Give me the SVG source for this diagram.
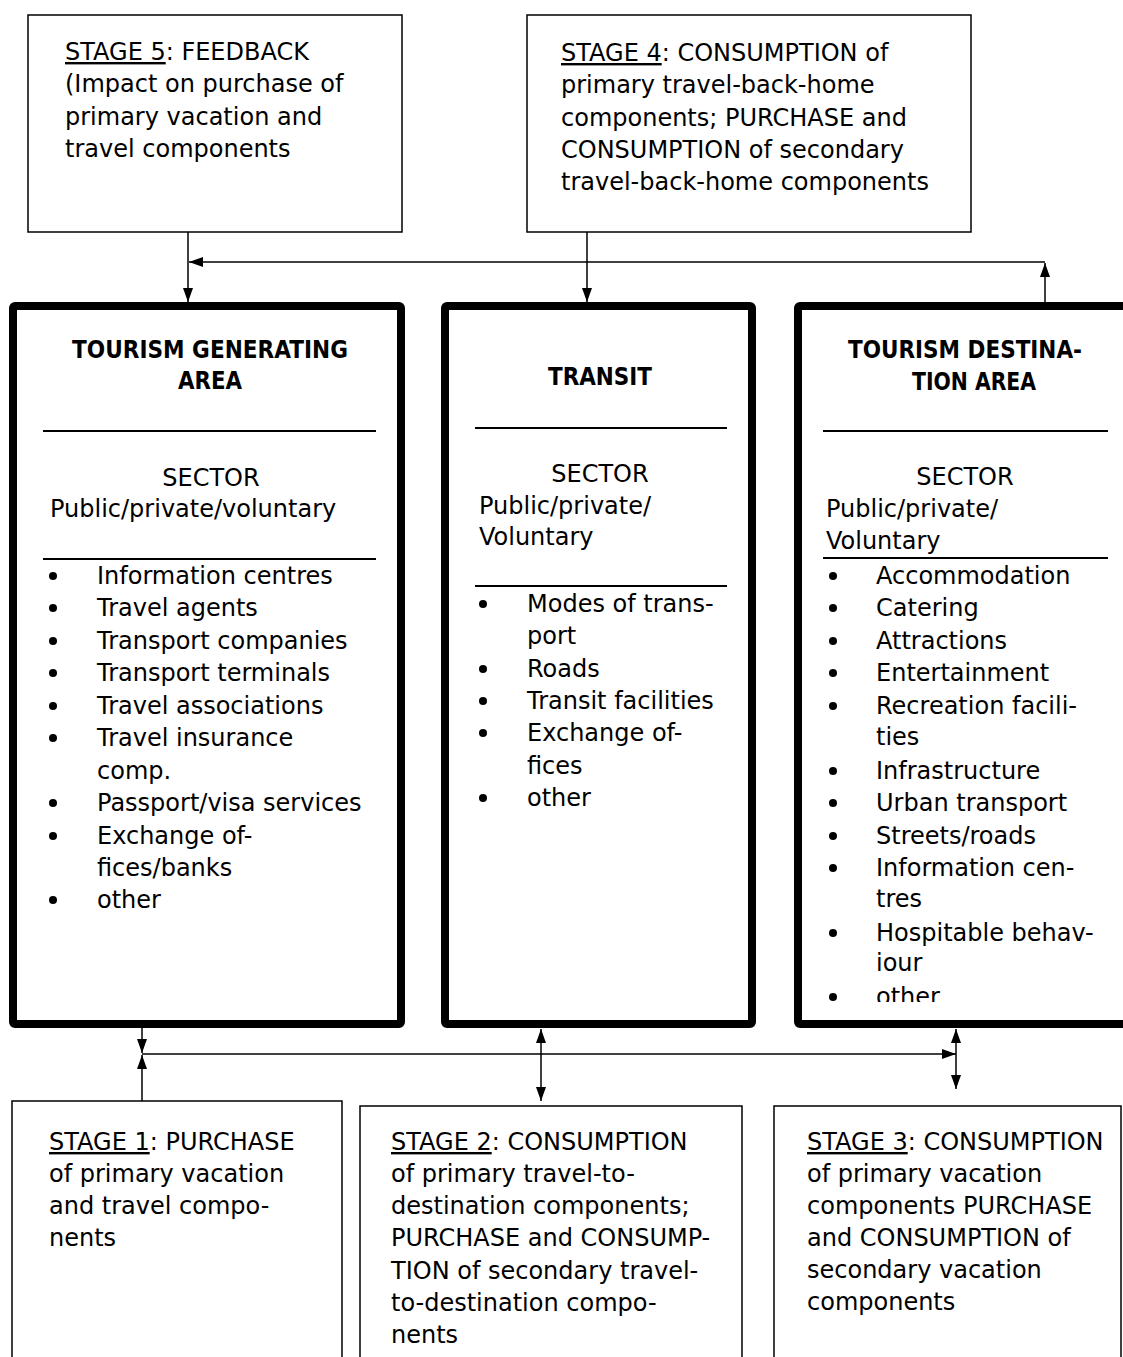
<svg xmlns="http://www.w3.org/2000/svg" width="1123" height="1357" viewBox="0 0 1123 1357">
<style>
  text { font-family: "DejaVu Sans", Verdana, sans-serif; font-size: 24px; fill: #000; }
  .h { font-weight: bold; }
  .u { text-decoration: underline; }
  .mid { text-anchor: middle; }
  .thin { fill: #fff; stroke: #000; stroke-width: 1.5; }
  .thick { fill: #fff; stroke: #000; stroke-width: 8; }
  .sep { stroke: #000; stroke-width: 2; }
  .con { fill: none; stroke: #000; stroke-width: 1.5; }
  .dot { fill: #000; }
</style>
<defs>
  <marker id="ah" viewBox="0 0 14 10" refX="14" refY="5" markerWidth="14" markerHeight="10" markerUnits="userSpaceOnUse" orient="auto-start-reverse">
    <path d="M0,0 L14,5 L0,10 Z" fill="#000"/>
  </marker>
  <clipPath id="clipR"><rect x="798" y="306" width="330" height="696"/></clipPath>
</defs>
<rect width="1123" height="1357" fill="#fff"/>

<g id="stage5">
  <rect class="thin" x="28" y="15" width="374" height="217"/>
  <text x="65" y="60"><tspan class="u">STAGE 5</tspan>: FEEDBACK</text>
  <text x="65" y="92">(Impact on purchase of</text>
  <text x="65" y="125">primary vacation and</text>
  <text x="65" y="157">travel components</text>
</g>

<g id="stage4">
  <rect class="thin" x="527" y="15" width="444" height="217"/>
  <text x="561" y="61"><tspan class="u">STAGE 4</tspan>: CONSUMPTION of</text>
  <text x="561" y="93">primary travel-back-home</text>
  <text x="561" y="126">components; PURCHASE and</text>
  <text x="561" y="158">CONSUMPTION of secondary</text>
  <text x="561" y="190">travel-back-home components</text>
</g>

<g id="generating">
  <rect class="thick" x="13" y="306" width="388" height="718" rx="2"/>
  <text class="h" x="72" y="358" textLength="276" lengthAdjust="spacingAndGlyphs">TOURISM GENERATING</text>
  <text class="h" x="178" y="389" textLength="64" lengthAdjust="spacingAndGlyphs">AREA</text>
  <line class="sep" x1="43" y1="431" x2="376" y2="431"/>
  <text class="mid" x="211" y="486">SECTOR</text>
  <text x="50" y="517">Public/private/voluntary</text>
  <line class="sep" x1="43" y1="559" x2="376" y2="559"/>
  <g>
    <circle class="dot" cx="53" cy="576" r="4"/><text x="97" y="584">Information centres</text>
    <circle class="dot" cx="53" cy="608" r="4"/><text x="97" y="616">Travel agents</text>
    <circle class="dot" cx="53" cy="641" r="4"/><text x="97" y="649">Transport companies</text>
    <circle class="dot" cx="53" cy="673" r="4"/><text x="97" y="681">Transport terminals</text>
    <circle class="dot" cx="53" cy="706" r="4"/><text x="97" y="714">Travel associations</text>
    <circle class="dot" cx="53" cy="738" r="4"/><text x="97" y="746">Travel insurance</text>
    <text x="97" y="779">comp.</text>
    <circle class="dot" cx="53" cy="803" r="4"/><text x="97" y="811">Passport/visa services</text>
    <circle class="dot" cx="53" cy="836" r="4"/><text x="97" y="844">Exchange of-</text>
    <text x="97" y="876">fices/banks</text>
    <circle class="dot" cx="53" cy="900" r="4"/><text x="97" y="908">other</text>
  </g>
</g>

<g id="transit">
  <rect class="thick" x="445" y="306" width="307" height="718" rx="2"/>
  <text class="h" x="548" y="385" textLength="104" lengthAdjust="spacingAndGlyphs">TRANSIT</text>
  <line class="sep" x1="475" y1="428" x2="727" y2="428"/>
  <text class="mid" x="600" y="482">SECTOR</text>
  <text x="479" y="514">Public/private/</text>
  <text x="479" y="545">Voluntary</text>
  <line class="sep" x1="475" y1="586" x2="727" y2="586"/>
  <g>
    <circle class="dot" cx="483" cy="604" r="4"/><text x="527" y="612">Modes of trans-</text>
    <text x="527" y="644">port</text>
    <circle class="dot" cx="483" cy="669" r="4"/><text x="527" y="677">Roads</text>
    <circle class="dot" cx="483" cy="701" r="4"/><text x="527" y="709">Transit facilities</text>
    <circle class="dot" cx="483" cy="733" r="4"/><text x="527" y="741">Exchange of-</text>
    <text x="527" y="774">fices</text>
    <circle class="dot" cx="483" cy="798" r="4"/><text x="527" y="806">other</text>
  </g>
</g>

<g id="destination">
  <rect class="thick" x="798" y="306" width="400" height="718" rx="2"/>
  <text class="h" x="848" y="358" textLength="234" lengthAdjust="spacingAndGlyphs">TOURISM DESTINA-</text>
  <text class="h" x="912" y="390" textLength="124" lengthAdjust="spacingAndGlyphs">TION AREA</text>
  <line class="sep" x1="823" y1="431" x2="1108" y2="431"/>
  <text class="mid" x="965" y="485">SECTOR</text>
  <text x="826" y="517">Public/private/</text>
  <text x="826" y="549">Voluntary</text>
  <line class="sep" x1="823" y1="558" x2="1108" y2="558"/>
  <g clip-path="url(#clipR)">
    <circle class="dot" cx="833" cy="576" r="4"/><text x="876" y="584">Accommodation</text>
    <circle class="dot" cx="833" cy="608" r="4"/><text x="876" y="616">Catering</text>
    <circle class="dot" cx="833" cy="641" r="4"/><text x="876" y="649">Attractions</text>
    <circle class="dot" cx="833" cy="673" r="4"/><text x="876" y="681">Entertainment</text>
    <circle class="dot" cx="833" cy="706" r="4"/><text x="876" y="714">Recreation facili-</text>
    <text x="876" y="745">ties</text>
    <circle class="dot" cx="833" cy="771" r="4"/><text x="876" y="779">Infrastructure</text>
    <circle class="dot" cx="833" cy="803" r="4"/><text x="876" y="811">Urban transport</text>
    <circle class="dot" cx="833" cy="836" r="4"/><text x="876" y="844">Streets/roads</text>
    <circle class="dot" cx="833" cy="868" r="4"/><text x="876" y="876">Information cen-</text>
    <text x="876" y="907">tres</text>
    <circle class="dot" cx="833" cy="933" r="4"/><text x="876" y="941">Hospitable behav-</text>
    <text x="876" y="971">iour</text>
    <circle class="dot" cx="833" cy="997" r="4"/><text x="876" y="1005">other</text>
  </g>
</g>

<g id="stage1">
  <rect class="thin" x="12" y="1101" width="330" height="300"/>
  <text x="49" y="1150"><tspan class="u">STAGE 1</tspan>: PURCHASE</text>
  <text x="49" y="1182">of primary vacation</text>
  <text x="49" y="1214">and travel compo-</text>
  <text x="49" y="1246">nents</text>
</g>

<g id="stage2">
  <rect class="thin" x="360" y="1106" width="382" height="300"/>
  <text x="391" y="1150"><tspan class="u">STAGE 2</tspan>: CONSUMPTION</text>
  <text x="391" y="1182">of primary travel-to-</text>
  <text x="391" y="1214">destination components;</text>
  <text x="391" y="1246">PURCHASE and CONSUMP-</text>
  <text x="391" y="1279">TION of secondary travel-</text>
  <text x="391" y="1311">to-destination compo-</text>
  <text x="391" y="1343">nents</text>
</g>

<g id="stage3">
  <rect class="thin" x="774" y="1106" width="347" height="300"/>
  <text x="807" y="1150"><tspan class="u">STAGE 3</tspan>: CONSUMPTION</text>
  <text x="807" y="1182">of primary vacation</text>
  <text x="807" y="1214">components PURCHASE</text>
  <text x="807" y="1246">and CONSUMPTION of</text>
  <text x="807" y="1278">secondary vacation</text>
  <text x="807" y="1310">components</text>
</g>

<g id="connectors">
  <line class="con" x1="188" y1="232" x2="188" y2="302" marker-end="url(#ah)"/>
  <line class="con" x1="587" y1="232" x2="587" y2="302" marker-end="url(#ah)"/>
  <line class="con" x1="1045" y1="302" x2="1045" y2="263" marker-end="url(#ah)"/>
  <line class="con" x1="1045" y1="262" x2="189" y2="262" marker-end="url(#ah)"/>
  <line class="con" x1="142" y1="1028" x2="142" y2="1053" marker-end="url(#ah)"/>
  <line class="con" x1="142" y1="1101" x2="142" y2="1055" marker-end="url(#ah)"/>
  <line class="con" x1="142" y1="1054" x2="956" y2="1054" marker-end="url(#ah)"/>
  <line class="con" x1="541" y1="1029" x2="541" y2="1101" marker-start="url(#ah)" marker-end="url(#ah)"/>
  <line class="con" x1="956" y1="1029" x2="956" y2="1089" marker-start="url(#ah)" marker-end="url(#ah)"/>
</g>
</svg>
